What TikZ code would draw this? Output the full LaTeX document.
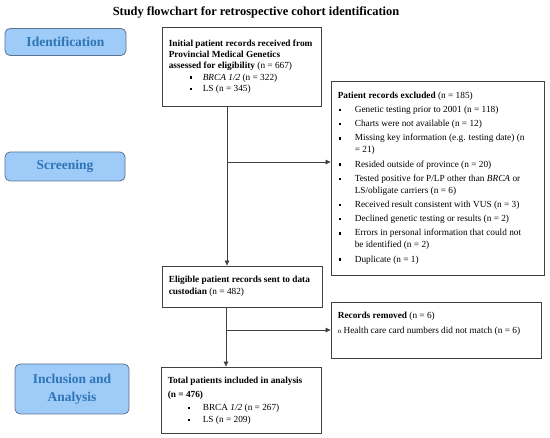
\documentclass[tikz,border=0pt]{standalone}
\usepackage{fontspec}
\setmainfont{Liberation Serif}
\usetikzlibrary{arrows.meta,calc}
\definecolor{stagefill}{HTML}{9FCBF9}
\definecolor{stagedraw}{HTML}{5B7490}
\definecolor{stagetext}{HTML}{2E75B6}
\definecolor{boxline}{HTML}{404040}
\newcommand{\sqb}{\raisebox{1.4pt}{\rule{2.4pt}{2.4pt}}}
\newcommand{\itm}{\makebox[17pt][l]{\hspace{1pt}\sqb}}
\newcommand{\cnt}{\hspace*{17pt}}
\begin{document}
\begin{tikzpicture}[x=1pt,y=-1pt,
 stage/.style={draw=stagedraw, line width=0.8pt, fill=stagefill, rounded corners=5pt, inner sep=0pt,
   font=\fontsize{13.5}{18}\selectfont\bfseries, text=stagetext, align=center},
 box/.style={draw=boxline, line width=0.8pt, inner sep=0pt},
 boxtext/.style={inner sep=0pt, align=left, anchor=west, font=\fontsize{9.3}{12}\selectfont},
 arr/.style={-{Triangle[length=5pt,width=4.5pt]}, line width=0.7pt, draw=boxline},
]
\useasboundingbox (0,0) rectangle (550,438);
\node[font=\fontsize{12.4}{14}\selectfont\bfseries, inner sep=0pt] (title) at (256,12) {Study flowchart for retrospective cohort identification};

\node[stage, minimum width=121pt, minimum height=27pt] (s1) at (65.5,42) {Identification};
\node[stage, minimum width=120pt, minimum height=29pt] (s2) at (65,166.5) {Screening};
\node[stage, minimum width=114pt, minimum height=50pt] (s3) at (72,389) {Inclusion and\\Analysis};

\node[box, minimum width=159pt, minimum height=79pt] (b1) at (241.5,66.5) {};
\node[box, minimum width=213pt, minimum height=194pt] (b2) at (437.5,178) {};
\node[box, minimum width=160pt, minimum height=41pt] (b3) at (242,286.5) {};
\node[box, minimum width=210pt, minimum height=56pt] (b4) at (436,330) {};
\node[box, minimum width=160pt, minimum height=66pt] (b5) at (241,400) {};

\node[boxtext, font=\fontsize{9.3}{11.3}\selectfont] (t1) at ($(b1.west)+(7,0)$) {%
\textbf{Initial patient records received from}\\
\textbf{Provincial Medical Genetics}\\
\textbf{assessed for eligibility} (n = 667)\\
\makebox[34pt][l]{\hspace{21pt}\sqb}\textit{BRCA 1/2} (n = 322)\\
\makebox[34pt][l]{\hspace{21pt}\sqb}LS (n = 345)};

\node[boxtext] (t2) at ($(b2.west)+(7,0)$) {%
\textbf{Patient records excluded} (n = 185)\\[2.2pt]
\itm Genetic testing prior to 2001 (n = 118)\\[2.2pt]
\itm Charts were not available (n = 12)\\[2.2pt]
\itm Missing key information (e.g. testing date) (n\\
\cnt= 21)\\[2.2pt]
\itm Resided outside of province (n = 20)\\[2.2pt]
\itm Tested positive for P/LP other than \textit{BRCA} or\\
\cnt LS/obligate carriers (n = 6)\\[2.2pt]
\itm Received result consistent with VUS (n = 3)\\[2.2pt]
\itm Declined genetic testing or results (n = 2)\\[2.2pt]
\itm Errors in personal information that could not\\
\cnt be identified (n = 2)\\[2.2pt]
\itm Duplicate (n = 1)};

\node[boxtext] (t3) at ($(b3.west)+(7,0)$) {%
\textbf{Eligible patient records sent to data}\\
\textbf{custodian} (n = 482)};

\node[boxtext, anchor=north west] (t4) at ($(b4.north west)+(7,10)$) {%
\textbf{Records removed} (n = 6)\\[3pt]
{\fontsize{7}{7}\selectfont o} Health care card numbers did not match (n = 6)};

\node[boxtext] (t5) at ($(b5.west)+(7,1)$) {%
\textbf{Total patients included in analysis}\\[2pt]
\textbf{(n = 476)}\\[1pt]
\makebox[35pt][l]{\hspace{20pt}\sqb}BRCA \textit{1/2} (n = 267)\\
\makebox[35pt][l]{\hspace{20pt}\sqb}LS (n = 209)};

\coordinate (v1) at (227,162);
\coordinate (v2) at (226,330);
\draw[arr] (b1.south -| v1) -- (b3.north -| v1);
\draw[arr] (v1) -- (v1 -| b2.west);
\draw[arr] (b3.south -| v2) -- (b5.north -| v2);
\draw[arr] (v2) -- (v2 -| b4.west);
\end{tikzpicture}
\end{document}
